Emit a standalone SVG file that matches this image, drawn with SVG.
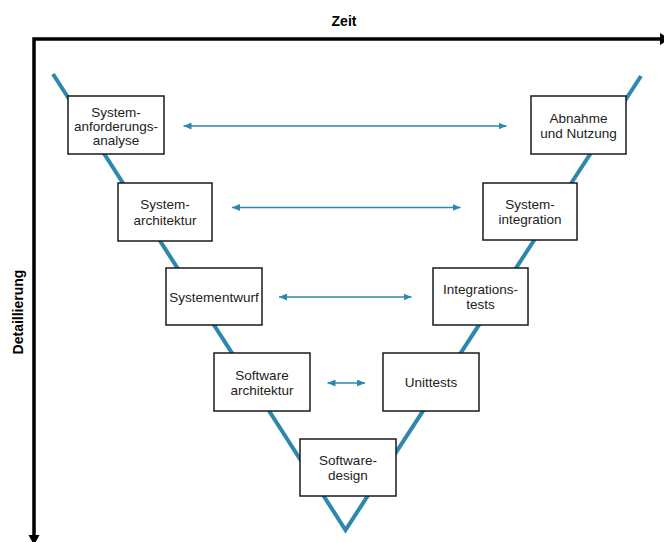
<svg xmlns="http://www.w3.org/2000/svg" width="664" height="542" viewBox="0 0 664 542">
  <defs>
    <marker id="tip" viewBox="0 0 8 7" refX="8" refY="3.5" markerWidth="8" markerHeight="7" markerUnits="userSpaceOnUse" orient="auto-start-reverse">
      <path d="M0,0 L8,3.5 L0,7 z" fill="#2E87AD"/>
    </marker>
    <style>
      .box { fill: #fff; stroke: #1a1a1a; stroke-width: 1.5; }
      .lbl { font-family: "Liberation Sans", Arial, sans-serif; font-size: 13.5px; fill: #222; text-anchor: middle; }
      .axis-lbl { font-family: "Liberation Sans", Arial, sans-serif; font-size: 14px; font-weight: bold; fill: #000; text-anchor: middle; }
      .link { stroke: #2E87AD; stroke-width: 1.5; fill: none; marker-start: url(#tip); marker-end: url(#tip); }
    </style>
  </defs>
  <rect width="664" height="542" fill="#fff"/>

  <!-- axes -->
  <g id="axes">
    <polyline points="661,39 34,39 34,536" fill="none" stroke="#000" stroke-width="3.5" stroke-linejoin="miter"/>
    <polygon points="660,33 670,39 660,45" fill="#000"/>
    <polygon points="28.5,535 39.5,535 34,545" fill="#000"/>
    <text class="axis-lbl" x="344" y="26">Zeit</text>
    <text class="axis-lbl" transform="translate(22.5,312) rotate(-90)" x="0" y="0">Detaillierung</text>
  </g>

  <!-- V-model path -->
  <g id="v-shape">
    <polyline points="53,74 345.5,530 641,76" fill="none" stroke="#2E87AD" stroke-width="4" stroke-linejoin="miter"/>
  </g>

  <!-- links between matching phases -->
  <g id="connectors">
    <line class="link" x1="183.5" y1="126" x2="506.5" y2="126"/>
    <line class="link" x1="232" y1="207.5" x2="460.5" y2="207.5"/>
    <line class="link" x1="279" y1="297" x2="411.5" y2="297"/>
    <line class="link" x1="327.5" y1="383" x2="365" y2="383"/>
  </g>

  <g id="systemanforderungsanalyse">
    <rect class="box" x="68" y="96" width="96" height="58"/>
    <text class="lbl" x="116" y="116.5">System-</text>
    <text class="lbl" x="116" y="130.5">anforderungs-</text>
    <text class="lbl" x="116" y="144.5">analyse</text>
  </g>

  <g id="abnahme">
    <rect class="box" x="531" y="96" width="95" height="58"/>
    <text class="lbl" x="578.5" y="122.5">Abnahme</text>
    <text class="lbl" x="578.5" y="138">und Nutzung</text>
  </g>

  <g id="systemarchitektur">
    <rect class="box" x="118" y="183" width="94" height="58"/>
    <text class="lbl" x="165" y="209">System-</text>
    <text class="lbl" x="165" y="224.5">architektur</text>
  </g>

  <g id="systemintegration">
    <rect class="box" x="483" y="183" width="94" height="57"/>
    <text class="lbl" x="530" y="208.5">System-</text>
    <text class="lbl" x="530" y="224">integration</text>
  </g>

  <g id="systementwurf">
    <rect class="box" x="166" y="268" width="96" height="57"/>
    <text class="lbl" x="214" y="301.5">Systementwurf</text>
  </g>

  <g id="integrationstests">
    <rect class="box" x="433" y="268" width="95" height="57"/>
    <text class="lbl" x="480.5" y="293.5">Integrations-</text>
    <text class="lbl" x="480.5" y="309">tests</text>
  </g>

  <g id="softwarearchitektur">
    <rect class="box" x="214" y="353" width="96" height="58"/>
    <text class="lbl" x="262" y="379.5">Software</text>
    <text class="lbl" x="262" y="395">architektur</text>
  </g>

  <g id="unittests">
    <rect class="box" x="383" y="353" width="96" height="58"/>
    <text class="lbl" x="431" y="387">Unittests</text>
  </g>

  <g id="softwaredesign">
    <rect class="box" x="300" y="439" width="96" height="57"/>
    <text class="lbl" x="348" y="464.5">Software-</text>
    <text class="lbl" x="348" y="480">design</text>
  </g>
</svg>
